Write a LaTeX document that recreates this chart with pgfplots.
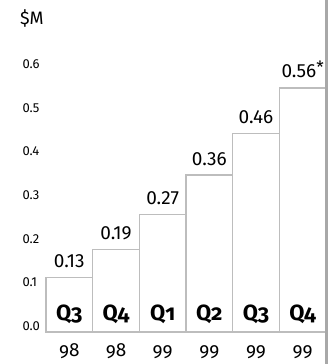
\documentclass[border=0pt]{standalone}
\usepackage{pgfplots}
\pgfplotsset{compat=1.18}
\usepackage{fontspec}
\setmainfont{Fira Sans}
\newfontfamily\oldnum[Numbers=OldStyle]{Fira Sans}
\definecolor{barline}{HTML}{BDBDBD}
\definecolor{edge}{HTML}{A8A8A8}
\begin{document}
\begin{tikzpicture}[x=1pt,y=1pt]
\useasboundingbox (0,0) rectangle (329,364);
\begin{axis}[
  at={(46pt,32pt)}, anchor=south west,
  scale only axis, width=280pt, height=332pt,
  xmin=-0.5, xmax=5.5, ymin=0, ymax=0.7615,
  axis line style={draw=none},
  clip=false,
  xtick={0,1,2,3,4,5},
  xticklabels={98,98,99,99,99,99},
  xticklabel style={anchor=base, yshift=-24.5pt, font=\oldnum\fontsize{19}{21}\selectfont},
  major tick length=0pt,
  ytick={0,0.1,0.2,0.3,0.4,0.5,0.6},
  yticklabels={0.0,0.1,0.2,0.3,0.4,0.5,0.6},
  yticklabel style={anchor=west, xshift=-27pt, yshift=6pt, font=\fontsize{13}{15}\selectfont},
  /pgf/number format/assume math mode=true,
]
\addplot[ybar, bar width=1, fill=white, draw=barline, line width=1.3pt,
  nodes near coords, point meta=explicit symbolic,
  nodes near coords style={anchor=base, yshift=10pt, font=\fontsize{19}{21}\selectfont, text=black}]
  table[meta=lab] {
x y lab
0 0.125 0.13
1 0.19 0.19
2 0.27 0.27
3 0.36 0.36
4 0.455 0.46
5 0.56 {0.56\raisebox{4pt}{\fontsize{17}{19}\selectfont *}}
};
\addplot[draw=none, mark=none, nodes near coords, point meta=explicit symbolic,
  nodes near coords style={anchor=base, yshift=11pt, font=\oldnum\bfseries\fontsize{22}{24}\selectfont, text=black}]
  table[meta=q] {
x y q
0 0 Q3
1 0 Q4
2 0 Q1
3 0 Q2
4 0 Q3
5 0 Q4
};
\node[anchor=base west, font=\fontsize{18}{20}\selectfont, inner sep=0pt] at ([xshift=-26pt, yshift=-24pt]rel axis cs:0,1) {\$M};
\draw[edge, line width=3pt] ([xshift=0.5pt,yshift=-32pt]rel axis cs:1,0) -- ([xshift=0.5pt]rel axis cs:1,1);
\end{axis}
\end{tikzpicture}
\end{document}
